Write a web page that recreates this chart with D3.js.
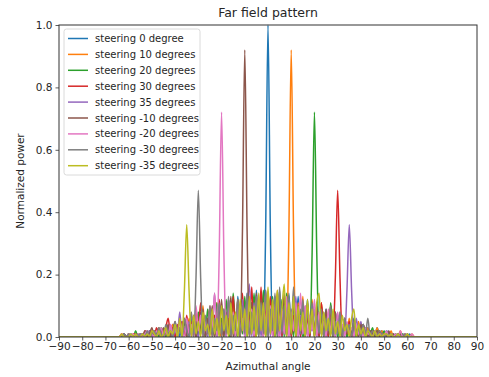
<!DOCTYPE html>
<html>
<head>
<meta charset="utf-8">
<script src="https://cdn.jsdelivr.net/npm/d3@7"></script>
<style>
  body { margin: 0; background: #fff; }
  text { font-family: "DejaVu Sans", sans-serif; fill: #262626; }
</style>
</head>
<body>
<div id="chart"></div>
<script>
// azimuth grid (degrees): far ends, then 1 degree steps from -64 to 64
const angles = [-90].concat(d3.range(-64, 65), [90]);

const xTicks = d3.range(-90, 91, 10);
const yTicks = [0, 20, 40, 60, 80, 100];

const labels = ['steering 0 degree', 'steering 10 degrees', 'steering 20 degrees',
  'steering 30 degrees', 'steering 35 degrees', 'steering -10 degrees',
  'steering -20 degrees', 'steering -30 degrees', 'steering -35 degrees'];

const colors = ['#1f77b4', '#ff7f0e', '#2ca02c', '#d62728', '#9467bd',
  '#8c564b', '#e377c2', '#7f7f7f', '#bcbd22'];

// normalized power in percent (one value per angle above)
const steer0 = [0,
  0,0,1,0,0,1,0,1,0,1, 0,1,0,2,0,2,1,3,0,2, 1,3,0,4,1,3,0,5,1,4,
  0,6,1,5,0,8,2,6,0,9, 1,7,0,10,2,8,0,12,1,9, 0,13,3,10,0,14,1,11,0,15,
  2,9,0,35,100,35,0,8,1,
  15,0,11,2,14,0,10,3,13,0, 9,1,12,0,8,2,10,0,7,1, 9,0,6,2,8,0,5,1,6,0,
  4,1,5,0,3,1,4,0,3,1, 2,0,3,1,2,0,2,1,0,1, 0,1,0,1,0,0,1,0,0,0,
  0];
const steer10 = [0,
  0,1,0,0,1,0,1,0,1,0, 1,0,2,0,1,2,0,3,1,2, 0,3,1,4,0,2,5,1,3,0,
  6,1,4,0,7,2,10,0,6,1, 8,0,11,3,0,9,1,6,0,10, 2,12,0,8,1,13,0,10,3,0,
  12,1,9,0,14,2,11,0,15,1,
  4,10,0,34,92,34,0,11,1,
  13,0,8,2,12,0,9,1,11,0, 7,2,10,0,6,1,8,0,5,1, 6,0,4,2,5,0,3,1,3,0,
  2,1,3,0,2,1,1,0,2,0, 1,0,2,0,1,0,0,1,0,0,
  0];
const steer20 = [0,
  0,0,1,0,1,0,0,2,0,1, 0,1,0,2,1,0,2,0,3,1, 0,3,0,2,4,0,3,1,5,0,
  4,1,6,0,8,2,5,0,9,1, 7,0,11,2,6,0,12,1,0,14, 3,0,10,1,13,0,8,2,14,0,
  11,1,15,0,9,2,13,0,10,1, 12,0,14,2,8,0,11,1,9,0,
  3,8,0,27,72,27,0,10,1,
  8,0,11,2,6,0,7,1,5,0, 4,1,6,0,3,1,4,0,2,1, 3,0,2,1,0,2,0,1,1,0,
  1,0,0,1,0,1,0,0,0,0,
  0];
const steer30 = [0,
  0,1,0,0,1,0,1,1,0,1, 0,2,1,0,2,0,3,1,2,0, 3,6,1,3,0,4,2,5,0,7,
  1,5,0,9,2,11,0,6,1,10, 0,7,2,12,0,8,1,10,0,13, 2,9,0,14,1,11,3,16,0,12,
  1,16,0,10,2,13,0,9,1,12, 0,8,3,11,0,7,1,10,0,9, 2,6,0,10,1,8,0,11,2,5,
  0,9,0,19,47,19,0,6,1,
  5,0,4,1,3,0,4,1,2,0, 2,1,0,2,0,1,1,0,1,0, 0,1,0,0,1,0,0,0,0,0,
  0];
const steer35 = [0,
  0,0,1,0,0,1,0,0,1,0, 1,0,1,2,0,1,0,2,1,0, 3,1,4,0,2,1,8,0,3,1,
  5,0,6,2,0,7,1,4,0,9, 2,14,0,6,1,9,0,11,2,7, 0,10,1,12,0,8,17,0,11,2,
  13,0,9,1,14,0,10,2,12,0, 8,1,11,0,9,2,13,0,7,1, 10,0,6,2,9,0,5,1,8,0,
  6,1,4,0,7,2,4,0,15,
  36,15,0,6,1,5,0,3,1,2, 0,2,1,0,1,0,1,0,0,1, 0,0,1,0,0,0,0,0,0,0,
  0];
const steerM10 = [0,
  0,0,1,0,1,0,0,1,0,1, 0,2,0,1,3,0,2,1,0,3, 1,4,0,2,5,0,3,1,6,0,
  4,2,7,0,5,1,9,0,6,2, 10,0,7,1,12,0,8,2,13,0,
  3,10,0,34,92,34,0,11,1,14,
  0,12,2,15,0,10,1,13,0,11, 2,14,0,9,1,12,0,10,3,8, 0,11,1,7,0,10,2,6,0,9,
  1,5,0,8,2,4,0,6,1,3, 0,5,2,0,4,1,3,0,2,1, 0,2,0,1,1,0,2,0,1,0,
  0,1,0,0,1,0,0,0,0,
  0];
const steerM20 = [0,
  0,1,0,0,1,0,1,0,0,1, 0,1,2,0,1,0,2,1,3,0, 2,0,4,1,3,0,5,2,0,6,
  1,4,0,10,2,7,0,5,1,9,
  3,14,0,27,72,27,0,12,1,8,
  0,11,2,6,0,13,1,9,0,12, 2,7,0,14,1,10,0,12,3,0, 9,1,13,0,8,2,11,0,14,1,
  10,0,7,2,12,0,8,1,5,0, 9,2,6,0,8,1,4,0,5,1, 3,0,4,1,2,0,3,1,1,0,
  2,0,1,1,0,2,0,1,0,1, 0,2,0,1,0,0,1,0,0,
  0];
const steerM30 = [0,
  0,0,1,0,1,0,0,1,0,1, 1,0,2,0,1,2,0,3,1,0, 4,1,2,0,5,1,3,0,6,2,
  0,8,0,19,47,19,0,7,1,10,
  0,6,2,11,0,9,1,13,0,7, 2,12,0,10,1,14,0,8,2,13, 0,11,1,15,0,9,2,14,0,16,
  1,10,0,13,2,16,0,9,1,12, 0,8,2,11,0,7,1,9,0,6, 2,10,0,5,1,8,0,6,2,4,
  0,5,1,3,0,4,1,6,0,2, 1,0,2,1,0,1,0,1,0,0, 1,0,0,1,0,0,0,0,0,
  0];
const steerM35 = [0,
  0,1,0,0,0,1,0,1,0,0, 1,0,1,0,2,1,0,2,0,1,
  3,0,2,1,4,0,6,0,15,36,
  15,0,7,1,5,0,8,2,4,0, 9,1,6,0,10,2,7,0,11,1, 8,0,12,2,9,0,13,1,10,0,
  14,2,11,0,16,1,12,0,15,2, 9,17,0,11,1,13,0,10,2,8, 0,12,1,9,0,11,14,0,8,2,
  6,0,9,1,5,0,7,2,4,0, 6,9,0,4,1,3,0,2,1,0, 2,0,1,0,1,1,0,1,0,0,
  1,0,0,0,1,0,0,0,0,
  0];

const series = [steer0, steer10, steer20, steer30, steer35, steerM10, steerM20, steerM30, steerM35];

const width = 489, height = 377;
const margin = { top: 25, right: 12, bottom: 40, left: 59 };

const svg = d3.select('#chart').append('svg')
  .attr('width', width)
  .attr('height', height);

const x = d3.scaleLinear().domain([-90, 90]).range([margin.left, width - margin.right]);
const y = d3.scaleLinear().domain([0, 100]).range([height - margin.bottom, margin.top]);

const line = d3.line()
  .x((d, i) => x(angles[i]))
  .y(d => y(d))
  .curve(d3.curveMonotoneX);

const clip = svg.append('clipPath').attr('id', 'clip')
  .append('rect')
  .attr('x', x(-90)).attr('y', y(100) - 1)
  .attr('width', x(90) - x(-90)).attr('height', y(0) - y(100) + 1);

svg.append('g').attr('clip-path', 'url(#clip)')
  .selectAll('path')
  .data(series)
  .enter()
  .append('path')
  .attr('d', line)
  .attr('fill', 'none')
  .attr('stroke', (d, i) => colors[i])
  .attr('stroke-width', 1.5)
  .attr('stroke-linejoin', 'round');

const xAxis = svg.append('g')
  .attr('transform', 'translate(0,' + y(0) + ')')
  .call(d3.axisBottom(x).tickValues(xTicks).tickSize(3.5).tickPadding(2)
    .tickFormat(d => String(d).replace('-', '\u2212')));

const yAxis = svg.append('g')
  .attr('transform', 'translate(' + x(-90) + ',0)')
  .call(d3.axisLeft(y).tickValues(yTicks).tickSize(3.5).tickPadding(3)
    .tickFormat(d => (d / 100).toFixed(1)));

[xAxis, yAxis].forEach(a => {
  a.select('.domain').remove();
  a.selectAll('.tick line').attr('stroke', '#333').attr('stroke-width', 0.8);
  a.selectAll('.tick text').attr('font-size', '10.5px').attr('fill', '#262626');
});

// frame
svg.append('rect')
  .attr('x', x(-90)).attr('y', y(100))
  .attr('width', x(90) - x(-90)).attr('height', y(0) - y(100))
  .attr('fill', 'none')
  .attr('stroke', '#333')
  .attr('stroke-width', 1);

svg.append('text')
  .attr('x', (x(-90) + x(90)) / 2).attr('y', 17)
  .attr('text-anchor', 'middle')
  .attr('font-size', '12.5px')
  .text('Far field pattern');

svg.append('text')
  .attr('x', (x(-90) + x(90)) / 2).attr('y', 370)
  .attr('text-anchor', 'middle')
  .attr('font-size', '10.5px')
  .text('Azimuthal angle');

svg.append('text')
  .attr('transform', 'translate(24,' + ((y(0) + y(100)) / 2) + ') rotate(-90)')
  .attr('text-anchor', 'middle')
  .attr('font-size', '10.5px')
  .text('Normalized power');

// legend
const legend = svg.append('g').attr('transform', 'translate(64,29)');
legend.append('rect')
  .attr('width', 136).attr('height', 146)
  .attr('rx', 2.5)
  .attr('fill', '#fff').attr('fill-opacity', 0.8)
  .attr('stroke', '#d0d0d0').attr('stroke-width', 0.8);

const item = legend.selectAll('.item')
  .data(labels)
  .enter()
  .append('g')
  .attr('class', 'item')
  .attr('transform', (d, i) => 'translate(0,' + (9.5 + i * 15.9) + ')');

item.append('line')
  .attr('x1', 4).attr('x2', 24)
  .attr('stroke', (d, i) => colors[i])
  .attr('stroke-width', 1.5);

item.append('text')
  .attr('x', 31).attr('dy', '0.35em')
  .attr('font-size', '10px')
  .text(d => d);
</script>
</body>
</html>
